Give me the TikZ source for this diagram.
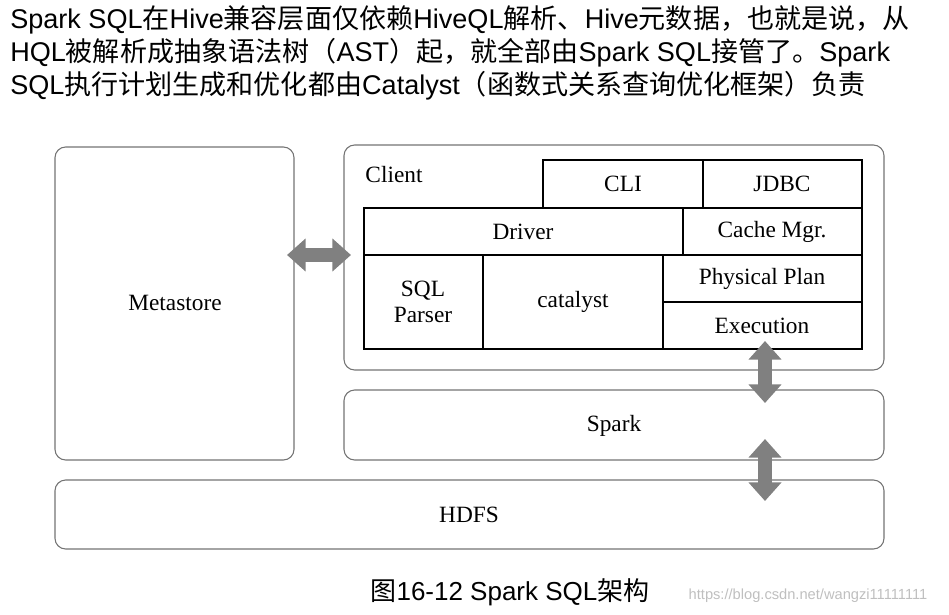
\documentclass[tikz,border=0pt]{standalone}
\usepackage{fontspec}
\setmainfont{Liberation Serif}
\newfontfamily\hdr{Liberation Sans}
\newfontfamily\cjk{Noto Sans CJK SC}
\usetikzlibrary{arrows.meta}
\begin{document}
\begin{tikzpicture}[x=0.75pt,y=-0.75pt,
  rbox/.style={draw=black!55,line width=0.8pt,rounded corners=8pt},
  cell/.style={draw=black,line width=0.8pt,fill=white},
  lbl/.style={font=\fontsize{17.5}{20}\selectfont,align=center},
  dbl/.style={draw=black!50,line width=10.5pt,{Triangle[width=24pt,length=14pt]}-{Triangle[width=24pt,length=14pt]}}]
\useasboundingbox (0,0) rectangle (949,614);
% header
\begin{scope}[every node/.style={anchor=west,inner sep=0pt,font=\fontsize{20.3}{23}\selectfont}]
\node (h1) at (10,20) {\hdr Spark SQL\cjk 在\hdr Hive\cjk 兼容层面仅依赖\hdr HiveQL\cjk 解析、\hdr Hive\cjk 元数据，也就是说，从};
\node (h2) at (10,53) {\hdr HQL\cjk 被解析成抽象语法树（\hdr AST\cjk ）起，就全部由\hdr Spark SQL\cjk 接管了。\hdr Spark};
\node (h3) at (10,86) {\hdr SQL\cjk 执行计划生成和优化都由\hdr Catalyst\cjk （函数式关系查询优化框架）负责};
\end{scope}
% boxes
\draw[rbox] (55,147) rectangle (294,460);
\node[lbl] (meta) at (175,303) {Metastore};
\draw[rbox] (344,145) rectangle (884,370);
\node[lbl] (client) at (394,175) {Client};
\draw[cell] (543,160) rectangle (703,208); \node[lbl] (cli) at (623,184) {CLI};
\draw[cell] (703,160) rectangle (862,208); \node[lbl] (jdbc) at (782,184) {JDBC};
\draw[cell] (364,208) rectangle (683,255); \node[lbl] (drv) at (523,232) {Driver};
\draw[cell] (683,208) rectangle (862,255); \node[lbl] (cache) at (772,232) {Cache Mgr.};
\draw[cell] (364,255) rectangle (483,349); \node[lbl] (sqlp) at (423,302) {SQL\\Parser};
\draw[cell] (483,255) rectangle (663,349); \node[lbl] (cat) at (573,302) {catalyst};
\draw[cell] (663,255) rectangle (862,302); \node[lbl] (pp) at (762,279) {Physical Plan};
\draw[cell] (663,302) rectangle (862,349); \node[lbl] (exe) at (762,326) {Execution};
\draw[rbox] (344,390) rectangle (884,460);
\node[lbl] (spark) at (614,426) {Spark};
\draw[rbox] (55,480) rectangle (884,549);
\node[lbl] (hdfs) at (469,515) {HDFS};
% arrows
\coordinate (a1) at (287,255); \coordinate (a2) at (351,255);
\draw[dbl] (a1) -- (a2);
\coordinate (b1) at (765,341); \coordinate (b2) at (765,403);
\draw[dbl] (b1) -- (b2);
\coordinate (c1) at (765,439); \coordinate (c2) at (765,501);
\draw[dbl] (c1) -- (c2);
% caption
\node[font=\fontsize{19.5}{22}\selectfont] (cap) at (510,592) {\cjk 图\hdr 16-12 Spark SQL\cjk 架构};
\node[font=\hdr\fontsize{11}{13}\selectfont,text=black!25] (wm) at (808,596) {https://blog.csdn.net/wangzi11111111};
\end{tikzpicture}
\end{document}
